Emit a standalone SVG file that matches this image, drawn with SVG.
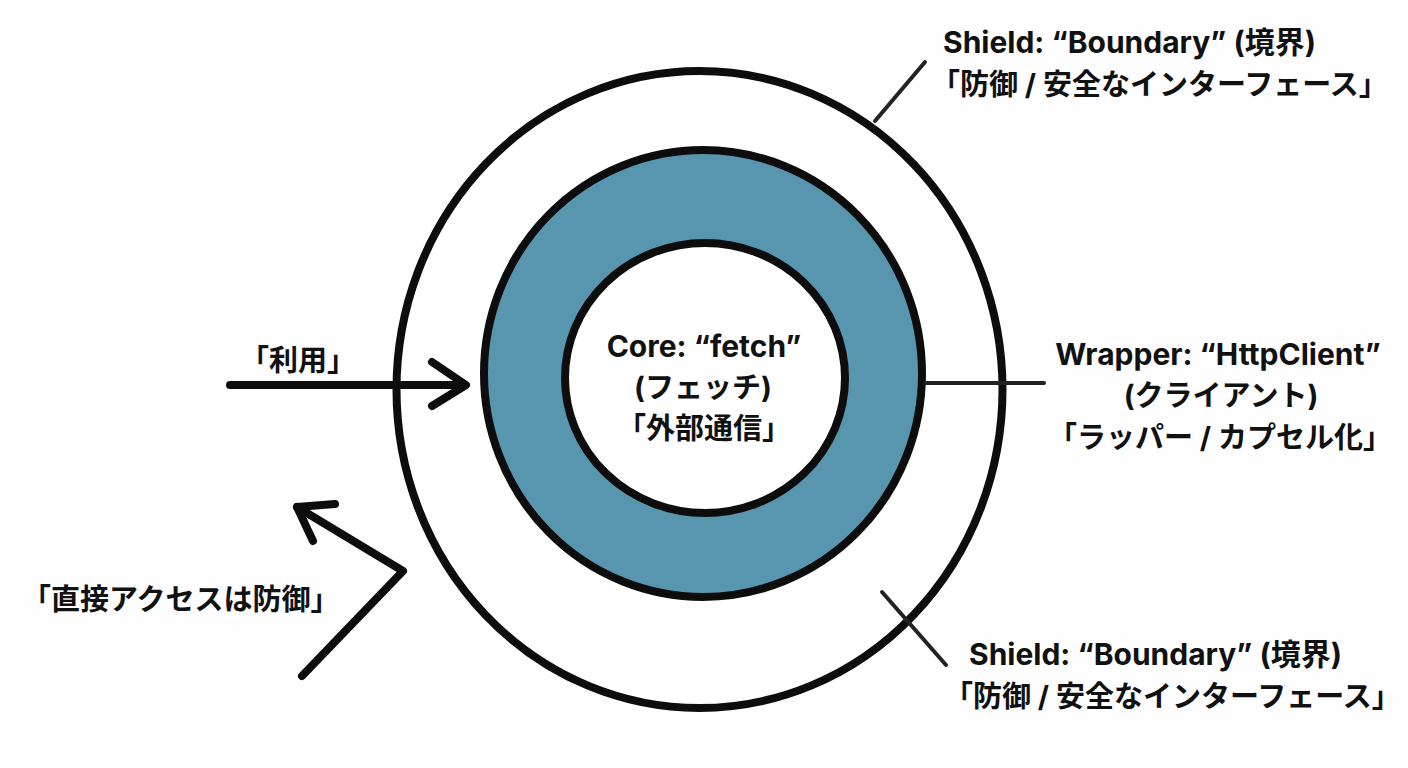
<svg xmlns="http://www.w3.org/2000/svg" width="1408" height="768" viewBox="0 0 1408 768">
  <style>
    .t { font-family: Inter, "Noto Sans CJK JP", sans-serif; font-weight: 700; font-size: 29px; fill: #111; }
    .l { font-size: 30px; }
    .c { text-anchor: middle; }
    .ring { stroke: #0d0d0d; stroke-width: 8; }
    .lead { stroke: #222; stroke-width: 4; stroke-linecap: round; fill: none; }
    .arrow { stroke: #0d0d0d; stroke-width: 8; stroke-linecap: round; stroke-linejoin: round; fill: none; }
  </style>
  <rect width="1408" height="768" fill="#fefefe"/>

  <g id="shield">
    <ellipse class="ring" cx="699.5" cy="389.5" rx="303" ry="318.5" fill="#ffffff"/>
  </g>
  <g id="wrapper">
    <ellipse class="ring" cx="703" cy="373.5" rx="219" ry="223.5" fill="#5896af"/>
  </g>
  <g id="core">
    <ellipse class="ring" cx="705" cy="378" rx="140" ry="135" fill="#ffffff"/>
    <text class="t l c" x="704" y="357">Core: “fetch”</text>
    <text class="t c" x="703" y="398">(フェッチ)</text>
    <text class="t c" x="704" y="439">「外部通信」</text>
  </g>

  <g id="connectors">
    <line class="lead" x1="875" y1="121" x2="925" y2="62"/>
    <line class="lead" x1="926" y1="383" x2="1044" y2="383" stroke-width="5"/>
    <line class="lead" x1="882" y1="592" x2="946" y2="665"/>
    <line class="arrow" x1="230" y1="385" x2="464" y2="385"/>
    <polyline class="arrow" points="432,362 466,385 432,406"/>
    <polyline class="arrow" points="302,676 403,571 297,507"/>
    <polyline class="arrow" points="335,504 297,507 313,541"/>
  </g>

  <g id="label-shield-top">
    <text class="t l" x="943" y="53">Shield: “Boundary” (境界)</text>
    <text class="t" x="931" y="95">「防御 / 安全なインターフェース」</text>
  </g>
  <g id="label-wrapper">
    <text class="t l c" x="1218" y="365">Wrapper: “HttpClient”</text>
    <text class="t c" x="1221" y="406">(クライアント)</text>
    <text class="t c" x="1220" y="448">「ラッパー / カプセル化」</text>
  </g>
  <g id="label-shield-bottom">
    <text class="t l" x="969" y="665">Shield: “Boundary” (境界)</text>
    <text class="t" x="944" y="707">「防御 / 安全なインターフェース」</text>
  </g>
  <g id="label-use">
    <text class="t" x="240" y="371">「利用」</text>
  </g>
  <g id="label-direct">
    <text class="t" x="22" y="610">「直接アクセスは防御」</text>
  </g>
</svg>
